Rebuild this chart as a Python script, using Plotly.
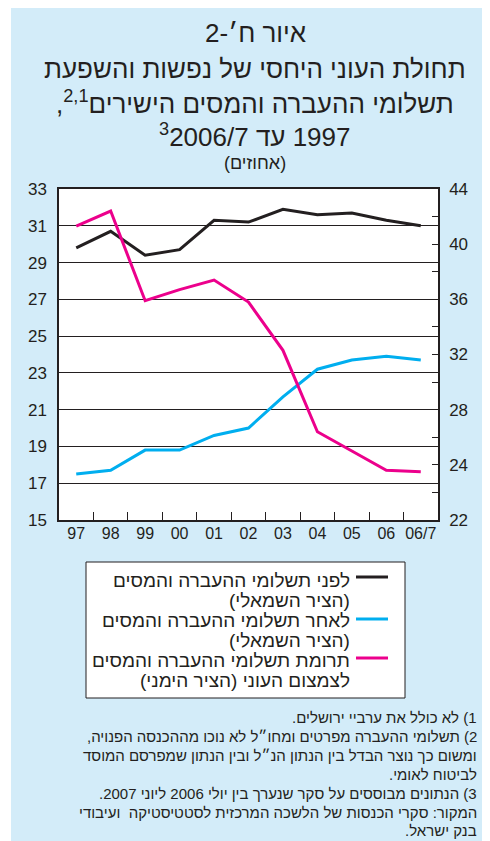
import plotly.graph_objects as go

# ---------------- data ----------------
years = ["97", "98", "99", "00", "01", "02", "03", "04", "05", "06", "06/7"]
before_transfers = [29.8, 30.7, 29.4, 29.7, 31.3, 31.2, 31.9, 31.6, 31.7, 31.3, 31.0]
after_transfers = [17.5, 17.7, 18.8, 18.8, 19.6, 20.0, 21.7, 23.2, 23.7, 23.9, 23.7]
contribution = [41.3, 42.4, 35.9, 36.7, 37.4, 35.8, 32.3, 26.4, 25.0, 23.6, 23.5]

left_ticks = [15, 17, 19, 21, 23, 25, 27, 29, 31, 33]
right_tickvals = [20, 24, 28, 32, 36, 40, 44]
right_ticktext = ["22", "24", "28", "32", "36", "40", "44"]
right_minor_ticks = [22, 26, 30, 34, 38, 42]

legend_lines = [
    ["לפני תשלומי ההעברה והמסים", "(הציר השמאלי)"],
    ["לאחר תשלומי ההעברה והמסים", "(הציר השמאלי)"],
    ["תרומת תשלומי ההעברה והמסים", "לצמצום העוני (הציר הימני)"],
]
title_lines = [
    "איור ח׳-2",
    "תחולת העוני היחסי של נפשות והשפעת",
    "תשלומי ההעברה והמסים הישירים<sup>2,1</sup>,",
    "1997 עד <sup>3</sup>2006/7",
]
subtitle = "(אחוזים)"
footnotes = [
    "1) לא כולל את ערביי ירושלים.",
    "2) תשלומי ההעברה מפרטים ומחו״ל לא נוכו מההכנסה הפנויה,",
    "ומשום כך נוצר הבדל בין הנתון הנ״ל ובין הנתון שמפרסם המוסד",
    "לביטוח לאומי.",
    "3) הנתונים מבוססים על סקר שנערך בין יולי 2006 ליוני 2007.",
    "המקור: סקרי הכנסות של הלשכה המרכזית לסטטיסטיקה  ועיבודי",
    "בנק ישראל.",
]

# ---------------- layout geometry ----------------
# The page body has an 8px margin, so the figure is drawn 8px in from the window corner.
OFF = 8
W, H = 490 - OFF, 841 - OFF
# plot area in window pixels
L, R, T, B = 59, 438, 189, 520
DARK = "#231f20"
BLUE = "#00aeef"
MAGENTA = "#ec008c"
PANEL = "#d3ecf9"
FONT = "Liberation Sans, Arial, sans-serif"


def fx(x):
    return (x - L) / (R - L)


def fy(y):
    return (B - y) / (B - T)


def rtl(s):
    return "\u202b" + s + "\u202c"


fig = go.Figure()
fig.add_trace(go.Scatter(x=years, y=before_transfers, mode="lines",
                         line=dict(color=DARK, width=3), yaxis="y", showlegend=False))
fig.add_trace(go.Scatter(x=years, y=after_transfers, mode="lines",
                         line=dict(color=BLUE, width=3), yaxis="y", showlegend=False))
fig.add_trace(go.Scatter(x=years, y=contribution, mode="lines",
                         line=dict(color=MAGENTA, width=3), yaxis="y2", showlegend=False))

shapes = [
    dict(type="rect", xref="paper", yref="paper", x0=fx(11), x1=fx(492), y0=fy(845), y1=fy(8),
         fillcolor=PANEL, line=dict(width=0), layer="below"),
    dict(type="rect", xref="paper", yref="paper", x0=0, x1=1, y0=0, y1=1,
         fillcolor="white", line=dict(width=0), layer="below"),
    dict(type="rect", xref="paper", yref="paper", x0=fx(86), x1=fx(405), y0=fy(698), y1=fy(562),
         fillcolor="white", line=dict(color=DARK, width=1), layer="below"),
]
annotations = []
swatch_colors = [DARK, BLUE, MAGENTA]
swatch_y = [577, 619, 658]
entry_y = [580, 620, 660]
for i, (lines, col) in enumerate(zip(legend_lines, swatch_colors)):
    shapes.append(dict(type="line", xref="paper", yref="paper", x0=fx(356), x1=fx(388),
                       y0=fy(swatch_y[i]), y1=fy(swatch_y[i]), line=dict(color=col, width=3)))
    for j, t in enumerate(lines):
        annotations.append(dict(text=rtl(t), xref="paper", yref="paper", x=fx(352),
                                y=fy(entry_y[i] + 20 * j),
                                xanchor="right", yanchor="middle", align="right", showarrow=False,
                                font=dict(size=19, color=DARK, family=FONT)))

title_y = [33, 69, 102, 135]
for t, y in zip(title_lines, title_y):
    annotations.append(dict(text=rtl(t), xref="paper", yref="paper", x=fx(255), y=fy(y),
                            xanchor="center", yanchor="middle", showarrow=False,
                            font=dict(size=26, color=DARK, family=FONT)))
annotations.append(dict(text=rtl(subtitle), xref="paper", yref="paper", x=fx(255), y=fy(163),
                        xanchor="center", yanchor="middle", showarrow=False,
                        font=dict(size=18, color=DARK, family=FONT)))

foot_y = [717, 736, 755, 774, 793, 812, 830]
for t, y in zip(footnotes, foot_y):
    annotations.append(dict(text=rtl(t), xref="paper", yref="paper", x=fx(478), y=fy(y),
                            xanchor="right", yanchor="middle", align="right", showarrow=False,
                            borderpad=0, font=dict(size=15, color=DARK, family=FONT)))

fig.update_layout(
    width=W, height=H, autosize=False,
    margin=dict(l=L - OFF, r=W - (R - OFF), t=T - OFF, b=H - (B - OFF), pad=0),
    paper_bgcolor="white", plot_bgcolor="rgba(0,0,0,0)",
    font=dict(family=FONT, color=DARK),
    showlegend=False,
    xaxis=dict(type="category", categoryorder="array", categoryarray=years,
               range=[-0.5, 10.5], showline=True, linecolor=DARK, linewidth=1.5, mirror=True,
               ticks="inside", tickson="boundaries", ticklen=8, tickcolor=DARK, tickwidth=1,
               showgrid=False, tickangle=0, tickfont=dict(size=16, color=DARK), ticklabelstandoff=-2),
    yaxis=dict(range=[15, 33], tickvals=left_ticks, showgrid=True, gridcolor=DARK, gridwidth=1,
               showline=True, linecolor=DARK, linewidth=1.5, ticks="", zeroline=False,
               tickfont=dict(size=17, color=DARK), ticklabelstandoff=7),
    yaxis2=dict(range=[20, 44], overlaying="y", side="right", tickvals=right_tickvals,
                ticktext=right_ticktext, showgrid=False, showline=True, linecolor=DARK,
                linewidth=1.5, ticks="inside", ticklen=6, tickcolor=DARK, zeroline=False,
                minor=dict(tickvals=right_minor_ticks, ticks="inside", ticklen=6,
                           tickcolor=DARK, showgrid=False),
                tickfont=dict(size=17, color=DARK), ticklabelstandoff=6),
    shapes=shapes,
    annotations=annotations,
)

fig.write_html("out.html")
